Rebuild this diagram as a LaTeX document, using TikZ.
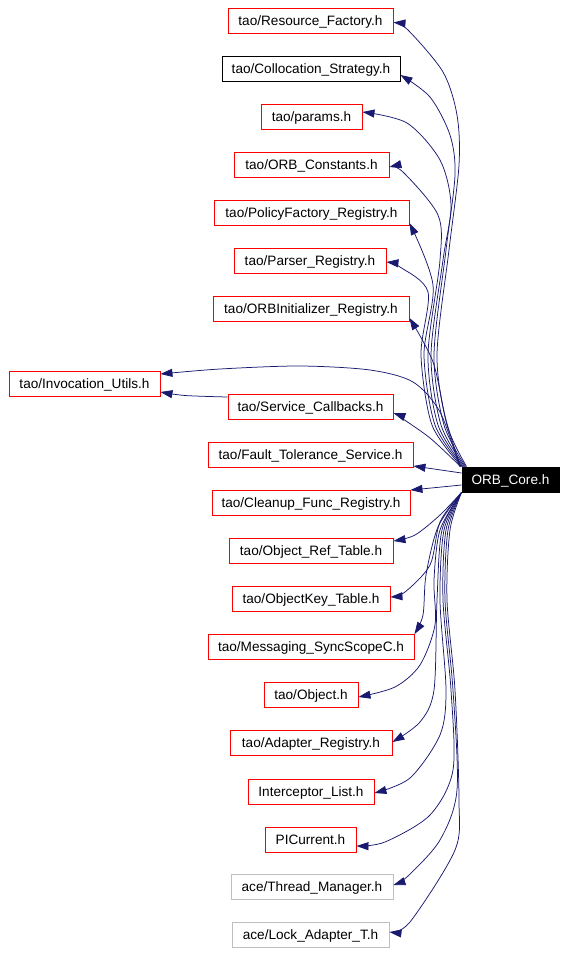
\documentclass[tikz,border=0pt]{standalone}
\usepackage{fontspec}
\setmainfont{Liberation Sans}
\usetikzlibrary{arrows.meta}
\definecolor{edgeblue}{HTML}{191970}
\definecolor{boxred}{HTML}{FF0000}
\definecolor{boxgray}{HTML}{BFBFBF}
\begin{document}
\begin{tikzpicture}[x=1pt,y=-1pt,
  file/.style={draw=boxred,line width=0.9pt,minimum height=25pt,inner sep=0pt,text height=10pt,text depth=1pt,font=\fontsize{13.6}{15}\selectfont,fill=white},
  filegray/.style={file,draw=boxgray},
  fileblack/.style={file,draw=black},
  core/.style={file,draw=black,fill=black,text=white},
  dep/.style={draw=edgeblue,line width=0.75pt,-{Triangle[length=12pt,width=8pt]},fill=none},
]
\useasboundingbox (0,0) rectangle (567,954);
\node[file,minimum width=165pt] (rf) at (310.5,20.5) {tao/Resource\_Factory.h};
\node[fileblack,minimum width=178pt] (cs) at (311,69) {tao/Collocation\_Strategy.h};
\node[file,minimum width=101pt] (pa) at (311.5,116.5) {tao/params.h};
\node[file,minimum width=155pt] (oc) at (311.5,165) {tao/ORB\_Constants.h};
\node[file,minimum width=195pt] (pf) at (311.5,213) {tao/PolicyFactory\_Registry.h};
\node[file,minimum width=152pt] (pr) at (310,260.5) {tao/Parser\_Registry.h};
\node[file,minimum width=196pt] (oi) at (311,308.5) {tao/ORBInitializer\_Registry.h};
\node[file,minimum width=151pt] (iu) at (84.5,383.5) {tao/Invocation\_Utils.h};
\node[file,minimum width=165pt] (sc) at (310.5,407) {tao/Service\_Callbacks.h};
\node[file,minimum width=205pt] (ft) at (310.5,455) {tao/Fault\_Tolerance\_Service.h};
\node[file,minimum width=198pt] (cf) at (311,503) {tao/Cleanup\_Func\_Registry.h};
\node[file,minimum width=164pt] (ort) at (311,551) {tao/Object\_Ref\_Table.h};
\node[file,minimum width=158pt] (okt) at (311,599) {tao/ObjectKey\_Table.h};
\node[file,minimum width=206pt] (ms) at (311,647) {tao/Messaging\_SyncScopeC.h};
\node[file,minimum width=94pt] (ob) at (311,695) {tao/Object.h};
\node[file,minimum width=162pt] (ar) at (311,743) {tao/Adapter\_Registry.h};
\node[file,minimum width=126pt] (il) at (311,792) {Interceptor\_List.h};
\node[file,minimum width=91pt] (pic) at (310.5,840) {PICurrent.h};
\node[filegray,minimum width=162pt] (tm) at (312,887) {ace/Thread\_Manager.h};
\node[filegray,minimum width=157pt] (la) at (310.5,935) {ace/Lock\_Adapter\_T.h};
\node[core,minimum width=97pt] (orb) at (510.5,479.5) {ORB\_Core.h};

% upper edges
\draw[dep] plot[smooth] coordinates {([xshift=5pt]orb.north west) (447,425) (437,355) (449,250) (459,165) (457,115) (443,72) (408,30) ([yshift=-2pt]rf.east)};
\draw[dep] plot[smooth] coordinates {([xshift=4pt]orb.north west) (444,425) (434,355) (446,250) (455,175) (450,135) (430,97) ([yshift=-6pt]cs.east)};
\draw[dep] plot[smooth] coordinates {([xshift=3pt]orb.north west) (441,425) (431,355) (443,260) (451,205) (440,160) (407,123) ([yshift=4.5pt]pa.east)};
\draw[dep] plot[smooth] coordinates {([xshift=2pt]orb.north west) (438,425) (428,355) (440,260) (438,215) (403,172) ([yshift=-2pt]oc.east)};
\draw[dep] plot[smooth] coordinates {([xshift=1pt]orb.north west) (435,425) (424,355) (433,285) ([yshift=-10pt]pf.east)};
\draw[dep] plot[smooth] coordinates {(orb.north west) (432,425) (421,355) (428,292) (400,267) ([yshift=-1.5pt]pr.east)};
\draw[dep] plot[smooth] coordinates {([xshift=-1pt]orb.north west) (446,420) (433,362) ([yshift=-9.5pt]oi.east)};
\draw[dep] plot[smooth] coordinates {([xshift=-2pt]orb.north west) (440,412) (413,382) (370,370) (300,366) (220,369) ([yshift=9.5pt]iu.east)};
\draw[dep] plot[smooth] coordinates {([xshift=-1pt]orb.north west) (430,438) (400,417) ([yshift=-6pt]sc.east)};
% middle straight edges
\draw[dep] ([yshift=6.5pt]orb.west) -- ([yshift=-11pt]ft.east);
\draw[dep] ([yshift=-5.5pt]orb.west) -- (cf.north east);
% lower edges
\draw[dep] plot[smooth] coordinates {(orb.south west) (440,515) (415,535) ([yshift=10pt]ort.east)};
\draw[dep] plot[smooth] coordinates {(orb.south west) (440,522) (430,565) (405,592) ([yshift=2pt]okt.east)};
\draw[dep] plot[smooth] coordinates {(orb.south west) (438,527) (426,575) (423,615) (ms.north east)};
\draw[dep] plot[smooth] coordinates {(orb.south west) (440,530) (434,580) (435,625) (420,665) (395,687) ([yshift=-2pt]ob.east)};
\draw[dep] plot[smooth] coordinates {(orb.south west) (442,530) (437,600) (434,690) (420,722) ([yshift=1pt]ar.east)};
\draw[dep] plot[smooth] coordinates {(orb.south west) (444,530) (440,600) (446,690) (440,735) (410,778) ([yshift=-1pt]il.east)};
\draw[dep] plot[smooth] coordinates {(orb.south west) (446,530) (443,600) (451,690) (453,770) (430,815) (385,842) ([yshift=-6pt]pic.east)};
\draw[dep] plot[smooth] coordinates {(orb.south west) (448,530) (445,600) (453,690) (457,790) (440,840) (408,876) ([yshift=2pt]tm.east)};
\draw[dep] plot[smooth] coordinates {(orb.south west) (450,530) (447,600) (455,690) (459,800) (455,850) (410,922) ([yshift=3pt]la.east)};
% service callbacks -> invocation utils
\draw[dep] plot[smooth] coordinates {([yshift=10pt]sc.west) (185,395.5) ([yshift=-8.5pt]iu.east)};
\end{tikzpicture}
\end{document}
